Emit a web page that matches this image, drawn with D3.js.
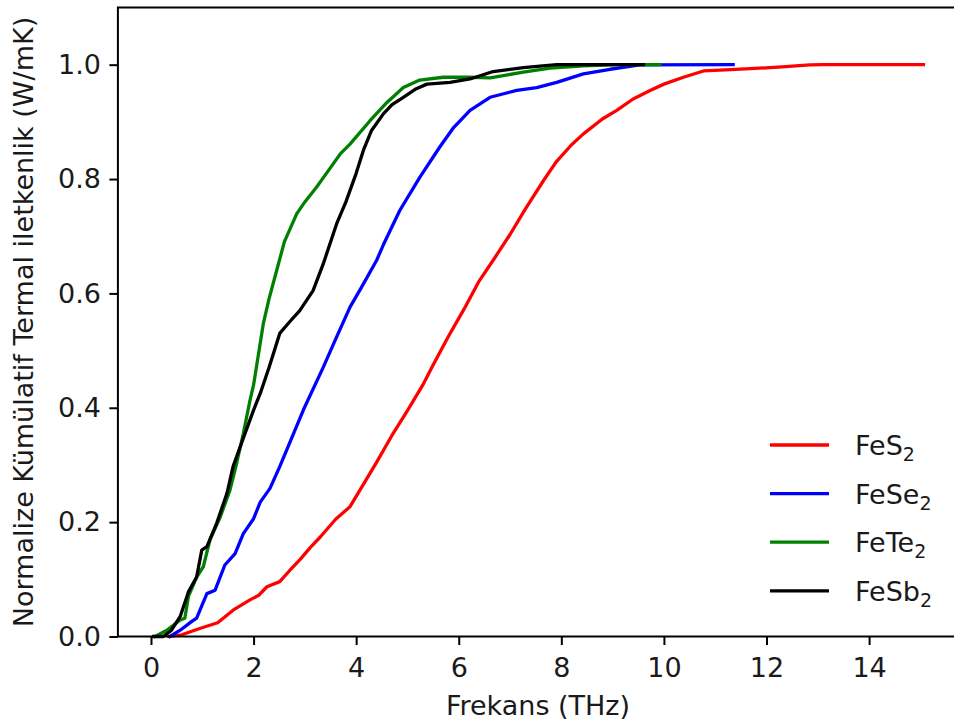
<!DOCTYPE html>
<html>
<head>
<meta charset="utf-8">
<script src="https://cdn.jsdelivr.net/npm/d3@7"></script>
<style>
  body { margin: 0; background: #fff; }
  svg { display: block; font-family: "DejaVu Sans", sans-serif; }
</style>
</head>
<body>
<div id="chart"></div>
<script>
// cumulative thermal conductivity, [frequency THz, normalized value]
const fes2 = [
  [0.35, 0], [0.6, 0.003], [0.95, 0.014], [1.3, 0.024], [1.6, 0.046], [1.93, 0.064],
  [2.1, 0.072], [2.26, 0.087], [2.51, 0.096], [2.7, 0.115], [2.9, 0.134], [3.1, 0.155],
  [3.3, 0.174], [3.6, 0.205], [3.88, 0.227], [4.1, 0.26], [4.4, 0.305], [4.7, 0.352],
  [5.0, 0.395], [5.3, 0.44], [5.5, 0.475], [5.8, 0.525], [6.1, 0.572], [6.4, 0.622],
  [6.7, 0.662], [7.0, 0.703], [7.3, 0.748], [7.65, 0.797], [7.9, 0.83], [8.2, 0.86],
  [8.43, 0.879], [8.8, 0.905], [9.08, 0.92], [9.4, 0.94], [9.73, 0.955], [10.0, 0.966],
  [10.38, 0.978], [10.77, 0.989], [11.2, 0.991], [11.68, 0.993], [12.3, 0.996],
  [12.85, 0.9995], [13.1, 1.0], [15.06, 1.0]
];
const fese2 = [
  [0.37, 0], [0.57, 0.011], [0.79, 0.026], [0.89, 0.032], [0.955, 0.046], [1.09, 0.075],
  [1.25, 0.081], [1.44, 0.125], [1.64, 0.145], [1.8, 0.18], [2.0, 0.206], [2.13, 0.235],
  [2.32, 0.259], [2.51, 0.297], [2.71, 0.34], [2.97, 0.396], [3.36, 0.471], [3.6, 0.52],
  [3.88, 0.576], [4.1, 0.61], [4.4, 0.658], [4.53, 0.685], [4.85, 0.745], [5.24, 0.803],
  [5.63, 0.856], [5.9, 0.89], [6.22, 0.92], [6.61, 0.943], [7.13, 0.955], [7.52, 0.96],
  [7.91, 0.969], [8.43, 0.984], [8.95, 0.992], [9.53, 0.9995], [11.35, 1.0]
];
const fete2 = [
  [0.08, 0], [0.31, 0.011], [0.57, 0.029], [0.66, 0.032], [0.73, 0.07], [0.89, 0.104],
  [1.02, 0.122], [1.15, 0.169], [1.35, 0.209], [1.54, 0.256], [1.67, 0.303], [1.8, 0.355],
  [1.93, 0.413], [2.0, 0.44], [2.19, 0.547], [2.3, 0.59], [2.45, 0.64], [2.6, 0.69],
  [2.84, 0.739], [3.0, 0.76], [3.23, 0.786], [3.5, 0.82], [3.7, 0.845], [3.88, 0.861],
  [4.27, 0.902], [4.6, 0.934], [4.92, 0.96], [5.24, 0.973], [5.7, 0.978], [6.22, 0.978],
  [6.61, 0.977], [6.87, 0.981], [7.26, 0.987], [7.78, 0.994], [8.43, 0.998],
  [9.08, 1.0], [9.92, 1.0]
];
const fesb2 = [
  [0.05, 0], [0.24, 0], [0.4, 0.011], [0.57, 0.035], [0.73, 0.078], [0.89, 0.104],
  [0.99, 0.151], [1.09, 0.157], [1.28, 0.198], [1.48, 0.25], [1.6, 0.297], [1.8, 0.347],
  [2.0, 0.396], [2.13, 0.425], [2.3, 0.47], [2.51, 0.53], [2.7, 0.55], [2.9, 0.57],
  [3.16, 0.605], [3.36, 0.652], [3.62, 0.722], [3.8, 0.76], [4.0, 0.81], [4.14, 0.85],
  [4.3, 0.885], [4.53, 0.914], [4.7, 0.93], [4.92, 0.943], [5.15, 0.957], [5.38, 0.966],
  [5.83, 0.969], [6.22, 0.975], [6.67, 0.988], [7.26, 0.995], [7.91, 1.0], [9.6, 1.0]
];

const seriesNames = ["FeS", "FeSe", "FeTe", "FeSb"];
const seriesColors = ["#ff0000", "#0000ff", "#008000", "#000000"];
const seriesData = [fes2, fese2, fete2, fesb2];

const xTicks = [0, 2, 4, 6, 8, 10, 12, 14];
const yTicks = [0, 0.2, 0.4, 0.6, 0.8, 1.0];

const width = 954, height = 728;
const fontSize = 27;

const x = d3.scaleLinear().domain([-0.645, 15.745]).range([117.9, 958.6]);
const y = d3.scaleLinear().domain([0, 1.1]).range([636.5, 7.5]);

const svg = d3.select("#chart").append("svg")
  .attr("width", width)
  .attr("height", height);

// curves
const line = d3.line()
  .x(d => x(d[0]))
  .y(d => y(d[1]));

svg.append("g").selectAll("path")
  .data(seriesData)
  .enter().append("path")
  .attr("d", line)
  .attr("fill", "none")
  .attr("stroke", (d, i) => seriesColors[i])
  .attr("stroke-width", 3.3)
  .attr("stroke-linejoin", "round")
  .attr("stroke-linecap", "square");

// axes
const xAxis = svg.append("g")
  .attr("transform", `translate(0,${y(0)})`)
  .call(d3.axisBottom(x).tickValues(xTicks).tickSize(8.5).tickSizeOuter(0).tickPadding(12.5)
    .tickFormat(d3.format("d")));
const yAxis = svg.append("g")
  .attr("transform", `translate(${x(-0.645)},0)`)
  .call(d3.axisLeft(y).tickValues(yTicks).tickSize(8.5).tickSizeOuter(0).tickPadding(8.5)
    .tickFormat(d3.format(".1f")));

[xAxis, yAxis].forEach(a => {
  a.select(".domain").remove();
  a.selectAll(".tick line").attr("stroke", "#000").attr("stroke-width", 2);
  a.selectAll(".tick text")
    .attr("fill", "#1a1a1a")
    .style("font-family", "DejaVu Sans")
    .style("font-size", fontSize + "px");
});

// spines
svg.append("rect")
  .attr("x", x(-0.645))
  .attr("y", y(1.1))
  .attr("width", x(15.745) - x(-0.645))
  .attr("height", y(0) - y(1.1))
  .attr("fill", "none")
  .attr("stroke", "#000")
  .attr("stroke-width", 2);

// axis labels
svg.append("text")
  .attr("x", 538)
  .attr("y", 715)
  .attr("text-anchor", "middle")
  .attr("fill", "#1a1a1a")
  .style("font-size", fontSize + "px")
  .text("Frekans (THz)");

svg.append("text")
  .attr("transform", `translate(33,322) rotate(-90)`)
  .attr("text-anchor", "middle")
  .attr("fill", "#1a1a1a")
  .style("font-size", fontSize + "px")
  .text("Normalize Kümülatif Termal iletkenlik (W/mK)");

// legend
const legend = svg.append("g").selectAll("g")
  .data(seriesNames)
  .enter().append("g")
  .attr("transform", (d, i) => `translate(770,${445 + i * 48.6})`);

legend.append("line")
  .attr("x1", 0).attr("x2", 59)
  .attr("stroke", (d, i) => seriesColors[i])
  .attr("stroke-width", 3.3);

const lt = legend.append("text")
  .attr("x", 85)
  .attr("y", 10)
  .attr("fill", "#1a1a1a")
  .style("font-size", fontSize + "px");
lt.append("tspan").text(d => d);
lt.append("tspan")
  .attr("dy", 6)
  .style("font-size", "19px")
  .text("2");
</script>
</body>
</html>
